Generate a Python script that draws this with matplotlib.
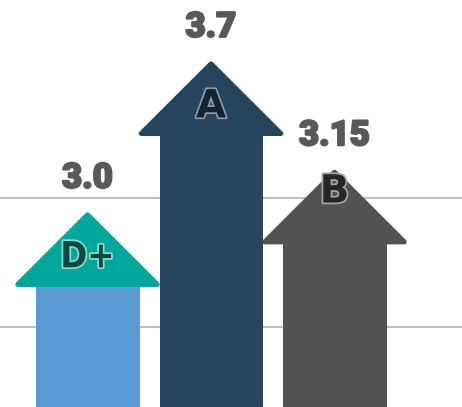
import matplotlib.pyplot as plt
import matplotlib.patheffects as pe
from matplotlib.patches import Polygon

# data (y in grid units: gridlines at 1 and 2)
scores = ["3.0", "3.7", "3.15"]
grades = ["D+", "A", "B"]
arrow_tops = [1.87, 3.04, 2.20]
baseline = 0.39
gridlines = [1, 2]

shaft_colors = ["#5b9bd5", "#27455f", "#525252"]
head_colors = ["#00a89c", "#27455f", "#525252"]
grade_fill = ["#0b4a43", "#15222f", "#262626"]
grade_edge = ["#8fdad0", "#8a9bb0", "#a5a5a5"]
grade_drop = [0.33, 0.33, 0.15]   # letter centre below arrow tip
grade_stretch = ["condensed", "normal", "normal"]
grade_sizes = [26, 28, 28]

fig = plt.figure(figsize=(4.62, 4.07), dpi=100)
ax = fig.add_axes([0, 0, 1, 1])
ax.set_xlim(-0.709, 3.032)
ax.set_ylim(0.38, 3.535)
ax.axis("off")

for g in gridlines:
    ax.axhline(g, color="#bfbfbf", lw=1.5, zorder=0)

head_h = 0.54
shaft_w = 0.40
head_w = 0.565
lw_px = 5
for i, top in enumerate(arrow_tops):
    base = top - head_h
    shaft = Polygon([(i - shaft_w, baseline), (i + shaft_w, baseline),
                     (i + shaft_w, base), (i - shaft_w, base)],
                    closed=True, fc=shaft_colors[i], ec=shaft_colors[i],
                    lw=lw_px * 0.72, joinstyle="round", zorder=2)
    ax.add_patch(shaft)
    head = Polygon([(i - head_w, base), (i + head_w, base), (i, top)],
                   closed=True, fc=head_colors[i], ec=head_colors[i],
                   lw=lw_px * 0.72, joinstyle="round", zorder=3)
    ax.add_patch(head)

    lab = ax.annotate(scores[i], (i, top), xytext=(0, 20), textcoords="offset pixels",
                      ha="center", va="bottom", fontsize=25, fontweight="black",
                      family=["Roboto", "DejaVu Sans"], color="#595959")
    lab.set_path_effects([pe.Stroke(linewidth=1.5, foreground="#595959"), pe.Normal()])

    t = ax.text(i, top - grade_drop[i], grades[i], ha="center", va="center",
                fontsize=grade_sizes[i], fontweight="bold", fontstretch=grade_stretch[i],
                family=["DejaVu Sans"], color=grade_fill[i], zorder=4)
    t.set_path_effects([pe.Stroke(linewidth=2.5, foreground=grade_edge[i]),
                        pe.Normal()])

fig.savefig("out.png", dpi=100)
